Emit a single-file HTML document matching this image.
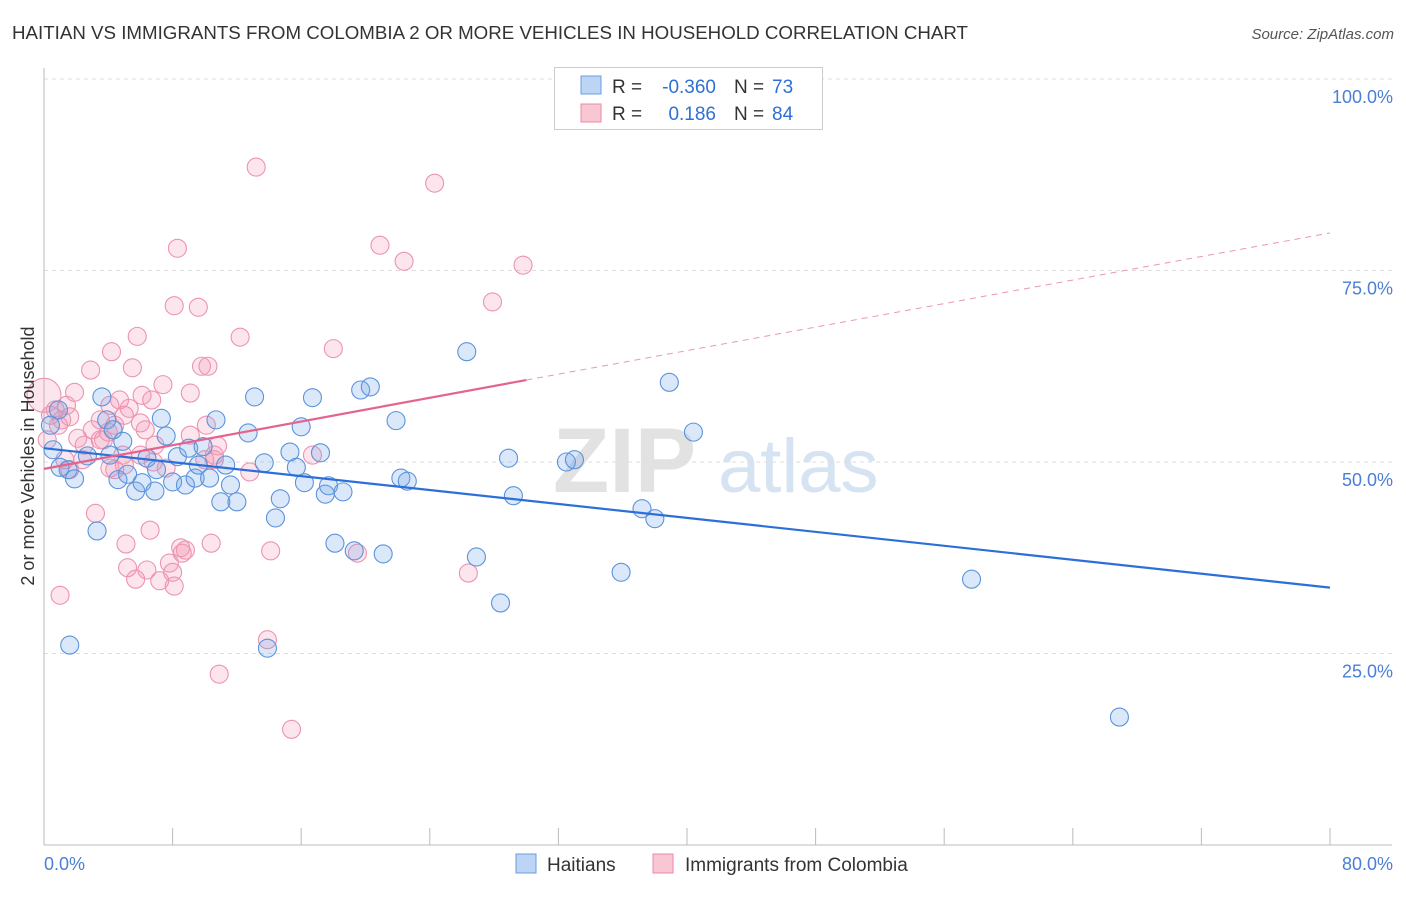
<!DOCTYPE html>
<html><head><meta charset="utf-8"><style>
body{margin:0;background:#fff;font-family:"Liberation Sans",sans-serif}
svg text{font-family:"Liberation Sans",sans-serif}
</style></head><body>
<svg width="1406" height="892">
<text x="12" y="39" font-size="18" fill="#333" textLength="956" lengthAdjust="spacingAndGlyphs">HAITIAN VS IMMIGRANTS FROM COLOMBIA 2 OR MORE VEHICLES IN HOUSEHOLD CORRELATION CHART</text>
<text x="1394" y="39" font-size="15" fill="#555" font-style="italic" text-anchor="end">Source: ZipAtlas.com</text>
<g><text x="553" y="492" font-size="92" font-family="Liberation Serif" fill="#e2e2e2" font-weight="bold">ZIP</text><text x="718" y="492" font-size="76" fill="#d5e3f3">atlas</text></g>
<g id="grid"></g><g id="marks"></g><g id="trends"></g>
<text transform="translate(34,456) rotate(-90)" font-size="18" fill="#333" text-anchor="middle">2 or more Vehicles in Household</text>
<text x="44" y="870" font-size="18" fill="#4a7fd4">0.0%</text>
<text x="1393" y="870" font-size="18" fill="#4a7fd4" text-anchor="end">80.0%</text>
<g>
<rect x="554.5" y="67.5" width="268" height="62" fill="#fff" stroke="#ccc"/>
<rect x="581" y="76" width="20" height="18" fill="#bcd5f5" stroke="#6a9de0"/>
<rect x="581" y="104" width="20" height="18" fill="#f9c6d4" stroke="#e88aa8"/>
<text x="612" y="93" font-size="19" fill="#333">R =</text>
<text x="716" y="93" font-size="19" fill="#2f6fd6" text-anchor="end">-0.360</text>
<text x="734" y="93" font-size="19" fill="#333">N =</text>
<text x="772" y="93" font-size="19" fill="#2f6fd6">73</text>
<text x="612" y="120" font-size="19" fill="#333">R =</text>
<text x="716" y="120" font-size="19" fill="#2f6fd6" text-anchor="end">0.186</text>
<text x="734" y="120" font-size="19" fill="#333">N =</text>
<text x="772" y="120" font-size="19" fill="#2f6fd6">84</text>
</g>
<g>
<rect x="516" y="854" width="20" height="19" fill="#bcd5f5" stroke="#6a9de0"/>
<text x="547" y="871" font-size="19" fill="#333">Haitians</text>
<rect x="653" y="854" width="20" height="19" fill="#f9c6d4" stroke="#e88aa8"/>
<text x="685" y="871" font-size="19" fill="#333">Immigrants from Colombia</text>
</g>
</svg>
<script>
const yTicks=[25,50,75,100];
const yTickLabels=["25.0%","50.0%","75.0%","100.0%"];
const xTicks=[0,8,16,24,32,40,48,56,64,72,80];
const haitianX=[0.56,1.0,1.5,1.9,1.6,3.3,3.6,3.9,4.3,4.1,4.6,4.9,5.2,5.7,6.1,6.4,6.9,7.3,7.6,8.0,8.3,8.8,9.0,9.4,9.6,9.9,10.3,10.7,11.0,11.3,11.6,12.0,12.7,13.1,13.7,13.9,14.4,14.7,15.3,15.7,16.0,16.2,16.7,17.2,17.5,17.7,18.1,18.6,19.3,19.7,20.3,21.1,21.9,22.2,22.6,26.3,26.9,28.4,28.9,29.2,32.5,33.0,35.9,37.2,38.0,38.9,40.4,57.7,66.9,0.4,0.9,2.7,7.0];
const haitianY=[51.6,49.3,49.0,47.8,26.1,41.0,58.5,55.5,54.2,50.9,47.7,52.7,48.4,46.2,47.3,50.5,46.2,55.7,53.4,47.4,50.7,47.0,51.8,47.9,49.6,52.0,47.9,55.5,44.8,49.6,47.0,44.8,53.8,58.5,49.9,25.7,42.7,45.2,51.3,49.3,54.6,47.3,58.4,51.2,45.8,46.9,39.4,46.1,38.4,59.4,59.8,38.0,55.4,47.9,47.5,64.4,37.6,31.6,50.5,45.6,50.0,50.3,35.6,43.9,42.6,60.4,53.9,34.7,16.7,54.8,56.8,50.8,49.0];
const colombiaX=[0,0.4,0.7,0.9,1.1,1.4,1.6,1.9,2.1,2.4,2.5,2.9,3.0,3.2,3.5,3.7,4.0,4.1,4.4,4.7,4.9,5.0,5.1,5.2,5.3,5.5,5.7,5.8,6.1,6.3,6.4,6.6,6.7,6.8,7.2,7.4,7.6,7.8,8.0,8.1,8.3,8.5,8.6,8.8,9.1,9.6,9.8,10.1,10.2,10.4,10.6,10.8,10.9,12.2,12.8,13.2,13.9,14.1,15.4,16.7,18.0,19.5,20.9,22.4,24.3,26.4,27.9,29.8,8.1,1.0,0.2,4.1,4.4,1.6,1.3,6.0,5.0,3.5,6.9,6.0,9.1,10.0,10.6,4.2];
const colombiaY=[58.7,56.1,56.8,54.8,55.5,57.4,55.9,59.1,53.1,50.3,52.2,62.0,54.2,43.3,55.5,52.9,53.9,49.2,54.8,58.1,50.9,49.6,39.3,36.2,57.0,62.3,34.7,66.4,58.7,54.2,35.9,41.1,58.1,50.0,34.5,60.1,49.2,36.8,35.6,33.8,77.9,38.8,38.1,38.5,59.0,70.2,62.5,54.8,62.5,39.4,50.3,52.1,22.3,66.3,48.7,88.5,26.8,38.4,15.1,50.9,64.8,38.1,78.3,76.2,86.4,35.5,70.9,75.7,70.4,32.6,52.9,57.4,49.0,49.0,50.3,55.1,56.1,52.9,52.2,50.9,53.5,50.3,50.9,64.4];
const haitianTrend=[[0,51.8],[80,33.6]];
const colombiaTrendSolid=[[0,49.1],[30,60.7]];
const colombiaTrendDash=[[30,60.7],[80,79.9]];
const NS="http://www.w3.org/2000/svg";
const sx=v=>44+v*16.075, sy=v=>845-v*7.66;
function mk(t,a,p){const e=document.createElementNS(NS,t);for(const k in a)e.setAttribute(k,a[k]);p.appendChild(e);return e;}
const grid=document.getElementById('grid');
yTicks.forEach((t,i)=>{
 const l=mk('line',{x1:44,x2:1392,y1:sy(t),y2:sy(t),stroke:'#ddd','stroke-dasharray':'4,4'},grid);
 
 
 const tx=mk('text',{x:1393,y:sy(t)+24,'font-size':18,fill:'#4a7fd4','text-anchor':'end'},grid);
 tx.textContent=yTickLabels[i];
 
 
});
const ax=mk('line',{x1:44,x2:1392,y1:845,y2:845,stroke:'#bbb'},grid);


const ay=mk('line',{x1:44,x2:44,y1:68,y2:845,stroke:'#bbb'},grid);


xTicks.forEach(t=>{
 const l=mk('line',{x1:sx(t),x2:sx(t),y1:828,y2:845,stroke:'#bbb'},grid);
 
 
});
const marks=document.getElementById('marks');
colombiaX.forEach((x,i)=>{
 const c=mk('circle',{cx:sx(x),cy:sy(colombiaY[i]),r:i===0?17:9,fill:'rgba(244,150,180,0.25)',stroke:'#ec94b0','stroke-width':1.1},marks);
 
 
});
haitianX.forEach((x,i)=>{
 const c=mk('circle',{cx:sx(x),cy:sy(haitianY[i]),r:9,fill:'rgba(110,165,230,0.25)',stroke:'#5b93dc','stroke-width':1.1},marks);
 
 
});
const tr=document.getElementById('trends');
function line(p,st,dash,name){const a={x1:sx(p[0][0]),y1:sy(p[0][1]),x2:sx(p[1][0]),y2:sy(p[1][1]),stroke:st,'stroke-width':dash?1:2.2};if(dash)a['stroke-dasharray']='6,5';const l=mk('line',a,tr);
 
 }
line(haitianTrend,'#2d6fd8',false,'haitian-trend-line');
line(colombiaTrendSolid,'#e4648e',false,'colombia-trend-line');
line(colombiaTrendDash,'#e898b2',true,'colombia-trend-extension');
</script>
</body></html>
